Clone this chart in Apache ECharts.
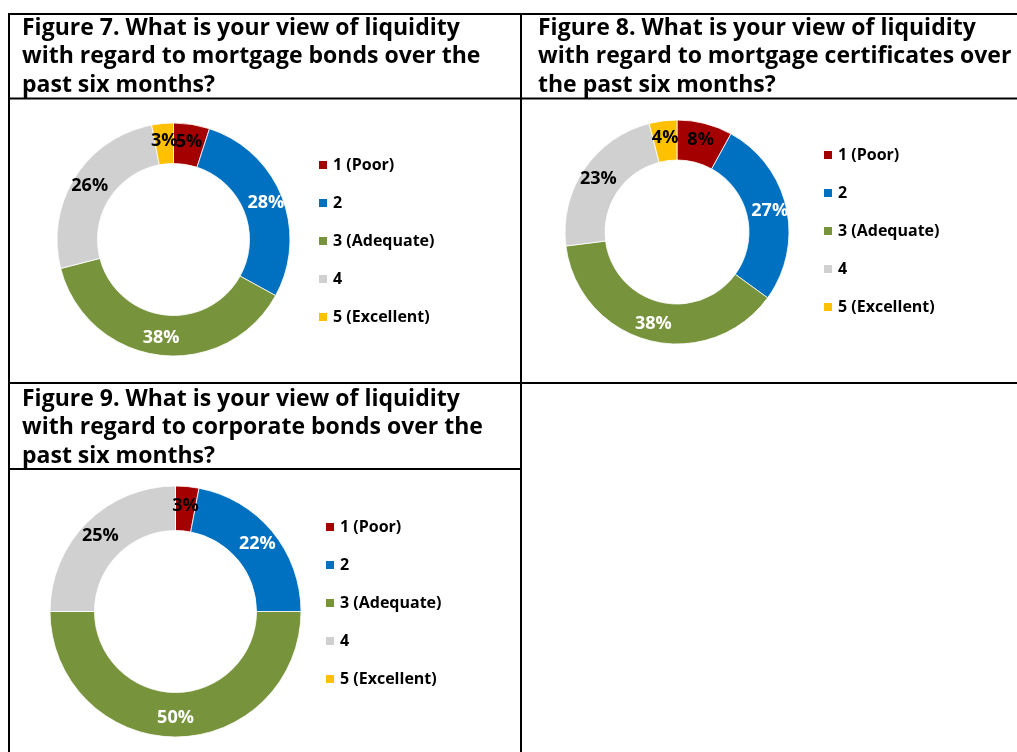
<!DOCTYPE html>
<html>
<head>
<meta charset="utf-8">
<script src="https://cdn.jsdelivr.net/npm/echarts@6/dist/echarts.min.js"></script>
<style>
html,body{margin:0;padding:0;background:#fff;}
#chart{width:1017px;height:752px;}
</style>
</head>
<body>
<div id="chart"></div>
<script>
const categories = ['1 (Poor)', '2', '3 (Adequate)', '4', '5 (Excellent)'];
const colors = ['#A50000', '#0070C0', '#77933C', '#D0D0D0', '#FFC000'];
const labelColors = ['#000', '#fff', '#fff', '#000', '#000'];
const fig7Values = [5, 28, 38, 26, 3];
const fig8Values = [8, 27, 38, 23, 4];
const fig9Values = [3, 22, 50, 25, 0];
const titles = [
  'Figure 7. What is your view of liquidity\nwith regard to mortgage bonds over the\npast six months?',
  'Figure 8. What is your view of liquidity\nwith regard to mortgage certificates over\nthe past six months?',
  'Figure 9. What is your view of liquidity\nwith regard to corporate bonds over the\npast six months?'
];

const FONT = '"Open Sans", "Segoe UI", sans-serif';

function buildData(values) {
  return values.map((v, i) => {
    const item = {
      name: categories[i],
      value: v,
      itemStyle: { color: colors[i] },
      label: { color: labelColors[i] }
    };
    if (v === 0) item.label.show = false;
    return item;
  });
}

function pieSeries(values, center, radius) {
  return {
    type: 'pie',
    center: center,
    radius: radius,
    startAngle: 90,
    clockwise: true,
    avoidLabelOverlap: false,
    silent: true,
    itemStyle: { borderColor: '#fff', borderWidth: 0.8 },
    label: {
      show: true,
      position: 'inside',
      formatter: '{c}%',
      fontFamily: FONT,
      fontSize: 18,
      fontWeight: 'bold',
      overflow: 'none'
    },
    labelLayout: { hideOverlap: false },
    labelLine: { show: false },
    data: buildData(values)
  };
}

function legend(left, top) {
  return {
    orient: 'vertical',
    left: left,
    top: top,
    padding: 0,
    icon: 'rect',
    itemWidth: 10,
    itemHeight: 10,
    itemGap: 20,
    selectedMode: false,
    data: categories,
    textStyle: {
      fontFamily: FONT,
      fontSize: 16,
      fontWeight: 'bold',
      color: '#000',
      lineHeight: 18
    }
  };
}

function title(text, left, top) {
  return {
    text: text,
    left: left,
    top: top,
    padding: 0,
    textStyle: {
      fontFamily: FONT,
      fontSize: 23,
      fontWeight: 'bold',
      color: '#000',
      lineHeight: 28.5
    }
  };
}

function line(x1, y1, x2, y2) {
  return {
    type: 'line',
    silent: true,
    shape: { x1: x1, y1: y1, x2: x2, y2: y2 },
    style: { stroke: '#000', lineWidth: 2 }
  };
}

const chart = echarts.init(document.getElementById('chart'), null, { renderer: 'canvas' });
chart.setOption({
  backgroundColor: '#fff',
  animation: false,
  title: [
    title(titles[0], 22, 14),
    title(titles[1], 538, 14),
    title(titles[2], 22, 385)
  ],
  legend: [
    legend(317, 156),
    legend(822, 146),
    legend(324, 518)
  ],
  graphic: [
    line(8, 14, 1017, 14),
    line(9, 13, 9, 752),
    line(8, 98.5, 1017, 98.5),
    line(521, 13, 521, 752),
    line(8, 383, 1017, 383),
    line(8, 469, 521, 469)
  ],
  series: [
    pieSeries(fig7Values, [173.5, 239.5], [76, 116.5]),
    pieSeries(fig8Values, [677, 232], [72, 112]),
    pieSeries(fig9Values, [175.5, 611.5], [81, 125.5])
  ]
});
</script>
</body>
</html>
